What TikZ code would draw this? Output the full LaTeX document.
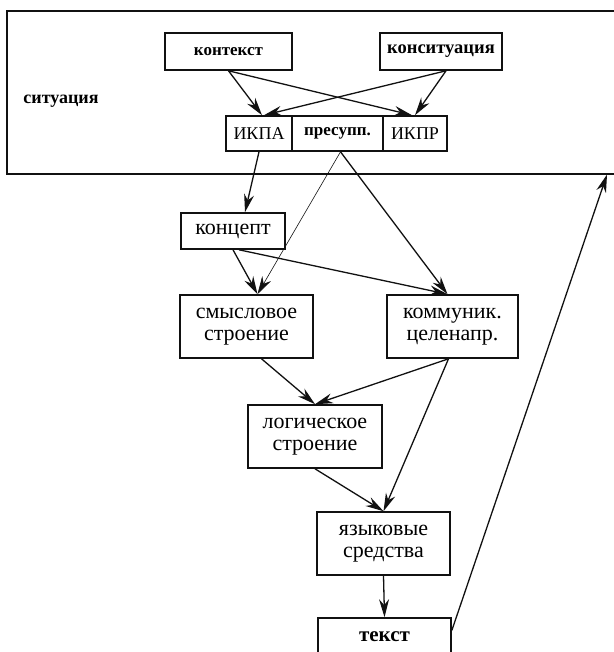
\documentclass[tikz,border=0pt]{standalone}
\usepackage{fontspec}
\setmainfont{Liberation Serif}
\usepackage{tikz}
\usetikzlibrary{arrows.meta,positioning}
\definecolor{scInk}{HTML}{111111}

\begin{document}
\begin{tikzpicture}[x=1pt,y=-1pt,
    box/.style={draw=scInk,line width=1.6pt,inner sep=0pt,align=center,
                font=\fontsize{22}{22}\selectfont},
    bold/.style={font=\fontsize{#1}{22}\selectfont\bfseries},
    flow/.style={draw=scInk,line width=1.3pt,-{Stealth[length=18pt,width=10pt]}}]
    \useasboundingbox (0,0) rectangle (613,652);
    % situation frame, open at the right
    \node[box,minimum width=612pt,minimum height=163pt] (sit) at (313,92.5) {};
    \node[bold=18] (sitlbl) at (61,101) {ситуация};
    \node[box,bold=17,minimum width=127pt,minimum height=37pt] (ctx) at (228.5,51.5) {контекст};
    \node[box,bold=18.5,minimum width=122pt,minimum height=37pt] (cons) at (441,51.5) {конситуация};
    \node[box,font=\fontsize{18}{22}\selectfont,minimum width=66pt,minimum height=35pt] (ikpa) at (259,133.5) {ИКПА};
    \node[box,bold=17,minimum width=91pt,minimum height=35pt] (presup) at (337.5,133.5) {пресупп.};
    \node[box,font=\fontsize{18}{22}\selectfont,minimum width=64pt,minimum height=35pt] (ikpr) at (415,133.5) {ИКПР};
    \node[box,minimum width=104pt,minimum height=36pt] (concept) at (233,231) {концепт};
    \node[box,minimum width=133pt,minimum height=63pt] (sense) at (246.5,326.5) {смысловое\\строение};
    \node[box,minimum width=131pt,minimum height=63pt] (comm) at (452.5,326.5) {коммуник.\\целенапр.};
    \node[box,minimum width=134pt,minimum height=63pt] (logic) at (315,436.5) {логическое\\строение};
    \node[box,minimum width=133pt,minimum height=63pt] (lang) at (383.5,543.5) {языковые\\средства};
    \node[box,bold=21,minimum width=133pt,minimum height=37pt] (text) at (384.5,636.5) {текст};
    \coordinate (back) at (607,174.5);

    \draw[flow] (ctx.south) -- ([xshift=3pt]ikpa.north);
    \draw[flow] (ctx.south) -- ([xshift=-3pt]ikpr.north);
    \draw[flow] ([xshift=5pt]cons.south) -- ([xshift=5pt]ikpa.north);
    \draw[flow] ([xshift=5pt]cons.south) -- (ikpr.north);
    \draw[flow] (ikpa.south) -- ([xshift=12pt]concept.north);
    \draw[flow,line width=0.6pt] ([xshift=3pt]presup.south) -- ([xshift=11pt]sense.north);
    \draw[flow] ([xshift=3pt]presup.south) -- ([xshift=-5pt]comm.north);
    \draw[flow] (concept.south) -- ([xshift=11pt]sense.north);
    \draw[flow] ([xshift=6pt]concept.south) -- ([xshift=-5pt]comm.north);
    \draw[flow] ([xshift=15pt]sense.south) -- (logic.north);
    \draw[flow] ([xshift=-4pt]comm.south) -- (logic.north);
    \draw[flow] (logic.south) -- (lang.north);
    \draw[flow] ([xshift=-4pt]comm.south) -- (lang.north);
    \draw[flow] (lang.south) -- (text.north);
    \draw[flow] ([yshift=6pt]text.east) -- (back);
\end{tikzpicture}
\end{document}
